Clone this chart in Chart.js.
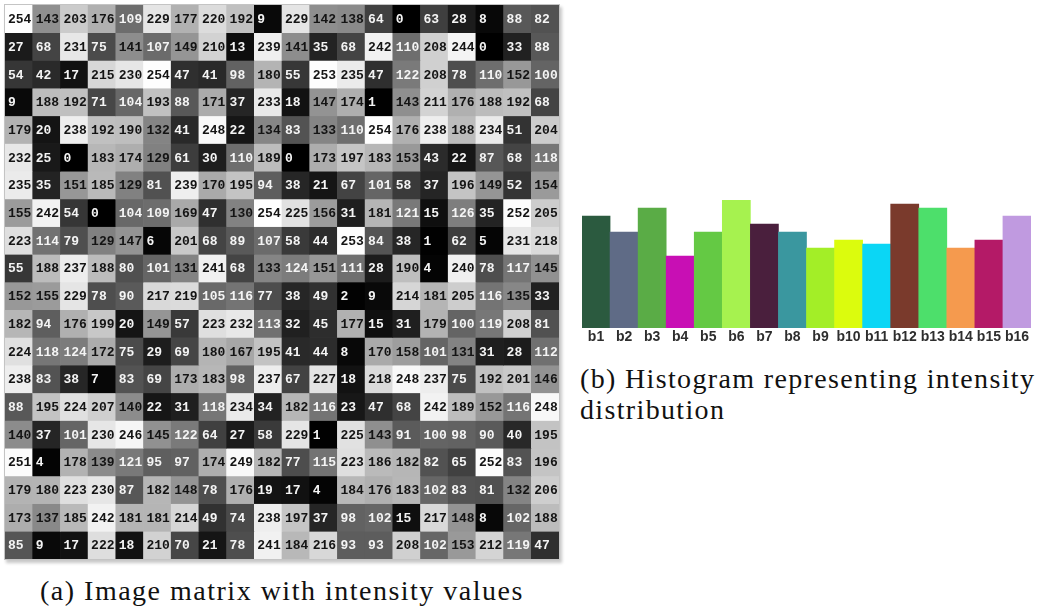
<!DOCTYPE html>
<html>
<head>
<meta charset="utf-8">
<script src="https://cdn.jsdelivr.net/npm/chart.js@4.4.1/dist/chart.umd.min.js"></script>
<style>
  body { margin: 0; background: #fff; width: 1039px; height: 615px; overflow: hidden; position: relative; }
  #matrixBox { position: absolute; left: 4px; top: 4px; width: 554px; height: 554px;
    border: 1px solid #c4c4c4; box-shadow: 2px 3px 3px #c8c8c8; }
  #histBox { position: absolute; left: 582px; top: 200px; width: 449px; height: 150px; }
  .cap { position: absolute; font-family: "Liberation Serif", serif; font-size: 28px; color: #111; white-space: nowrap; letter-spacing: 1.5px; }
</style>
</head>
<body>
<div id="matrixBox"><canvas id="matrix"></canvas></div>
<div id="histBox"><canvas id="hist"></canvas></div>
<div class="cap" style="left:40px; top:575px;">(a) Image matrix with intensity values</div>
<div class="cap" style="left:580px; top:363px; line-height:31px; letter-spacing:1.35px;">(b) Histogram representing intensity<br>distribution</div>
<script>
// intensity values, one array per image row
const r01 = [254, 143, 203, 176, 109, 229, 177, 220, 192, 9, 229, 142, 138, 64, 0, 63, 28, 8, 88, 82];
const r02 = [27, 68, 231, 75, 141, 107, 149, 210, 13, 239, 141, 35, 68, 242, 110, 208, 244, 0, 33, 88];
const r03 = [54, 42, 17, 215, 230, 254, 47, 41, 98, 180, 55, 253, 235, 47, 122, 208, 78, 110, 152, 100];
const r04 = [9, 188, 192, 71, 104, 193, 88, 171, 37, 233, 18, 147, 174, 1, 143, 211, 176, 188, 192, 68];
const r05 = [179, 20, 238, 192, 190, 132, 41, 248, 22, 134, 83, 133, 110, 254, 176, 238, 188, 234, 51, 204];
const r06 = [232, 25, 0, 183, 174, 129, 61, 30, 110, 189, 0, 173, 197, 183, 153, 43, 22, 87, 68, 118];
const r07 = [235, 35, 151, 185, 129, 81, 239, 170, 195, 94, 38, 21, 67, 101, 58, 37, 196, 149, 52, 154];
const r08 = [155, 242, 54, 0, 104, 109, 169, 47, 130, 254, 225, 156, 31, 181, 121, 15, 126, 35, 252, 205];
const r09 = [223, 114, 79, 129, 147, 6, 201, 68, 89, 107, 58, 44, 253, 84, 38, 1, 62, 5, 231, 218];
const r10 = [55, 188, 237, 188, 80, 101, 131, 241, 68, 133, 124, 151, 111, 28, 190, 4, 240, 78, 117, 145];
const r11 = [152, 155, 229, 78, 90, 217, 219, 105, 116, 77, 38, 49, 2, 9, 214, 181, 205, 116, 135, 33];
const r12 = [182, 94, 176, 199, 20, 149, 57, 223, 232, 113, 32, 45, 177, 15, 31, 179, 100, 119, 208, 81];
const r13 = [224, 118, 124, 172, 75, 29, 69, 180, 167, 195, 41, 44, 8, 170, 158, 101, 131, 31, 28, 112];
const r14 = [238, 83, 38, 7, 83, 69, 173, 183, 98, 237, 67, 227, 18, 218, 248, 237, 75, 192, 201, 146];
const r15 = [88, 195, 224, 207, 140, 22, 31, 118, 234, 34, 182, 116, 23, 47, 68, 242, 189, 152, 116, 248];
const r16 = [140, 37, 101, 230, 246, 145, 122, 64, 27, 58, 229, 1, 225, 143, 91, 100, 98, 90, 40, 195];
const r17 = [251, 4, 178, 139, 121, 95, 97, 174, 249, 182, 77, 115, 223, 186, 182, 82, 65, 252, 83, 196];
const r18 = [179, 180, 223, 230, 87, 182, 148, 78, 176, 19, 17, 4, 184, 176, 183, 102, 83, 81, 132, 206];
const r19 = [173, 137, 185, 242, 181, 181, 214, 49, 74, 238, 197, 37, 98, 102, 15, 217, 148, 8, 102, 188];
const r20 = [85, 9, 17, 222, 18, 210, 70, 21, 78, 241, 184, 216, 93, 93, 208, 102, 153, 212, 119, 47];
const rows = [r01, r02, r03, r04, r05, r06, r07, r08, r09, r10, r11, r12, r13, r14, r15, r16, r17, r18, r19, r20];
const columns = ['1', '2', '3', '4', '5', '6', '7', '8', '9', '10', '11', '12', '13', '14', '15', '16', '17', '18', '19', '20'];

// histogram bins
const bins = ['b1', 'b2', 'b3', 'b4', 'b5', 'b6', 'b7', 'b8', 'b9', 'b10', 'b11', 'b12', 'b13', 'b14', 'b15', 'b16'];
const counts = [28, 24, 30, 18, 24, 32, 26, 24, 20, 22, 21, 31, 30, 20, 22, 28];
const binColors = ['#2b5a3f', '#5f6b86', '#5aac46', '#c80fb4', '#64c944', '#a6f24f', '#4a1f3d', '#3a979f',
  '#a3ee27', '#dbfc0d', '#0bd6f5', '#7a3a2c', '#4ddf6b', '#f59a4e', '#b41a67', '#c09ae0'];

const cellText = {
  id: 'cellText',
  afterDatasetsDraw(chart) {
    const c = chart.ctx;
    c.save();
    c.font = 'bold 13px "Liberation Mono", monospace';
    c.textBaseline = 'middle';
    c.textAlign = 'left';
    chart.data.datasets.forEach((ds, di) => {
      chart.getDatasetMeta(di).data.forEach((bar, j) => {
        const v = ds.intensity[j];
        c.fillStyle = v >= 128 ? '#141414' : '#f4f4f4';
        c.fillText(String(v), bar.x - bar.width / 2 + 3, (bar.y + bar.base) / 2 + 1);
      });
    });
    c.restore();
  }
};

new Chart(document.getElementById('matrix'), {
  type: 'bar',
  data: {
    labels: columns,
    datasets: rows.map((vals, i) => ({
      label: 'row ' + (i + 1),
      data: vals.map(() => 1),
      intensity: vals,
      backgroundColor: vals.map(v => `rgb(${v},${v},${v})`),
      borderWidth: 0,
      categoryPercentage: 1,
      barPercentage: 1
    }))
  },
  options: {
    responsive: true,
    maintainAspectRatio: false,
    animation: false,
    plugins: { legend: { display: false }, tooltip: { enabled: false } },
    scales: {
      x: { display: false, stacked: true },
      y: { display: false, stacked: true, reverse: true, min: 0, max: 20 }
    }
  },
  plugins: [cellText]
});

new Chart(document.getElementById('hist'), {
  type: 'bar',
  data: {
    labels: bins,
    datasets: [{
      data: counts,
      backgroundColor: binColors,
      borderWidth: 0,
      categoryPercentage: 1,
      barPercentage: 1
    }]
  },
  options: {
    responsive: true,
    maintainAspectRatio: false,
    animation: false,
    plugins: { legend: { display: false }, tooltip: { enabled: false } },
    scales: {
      x: {
        grid: { display: false, drawTicks: false },
        border: { display: false },
        ticks: { color: '#2e2e2e', font: { family: 'Liberation Sans', size: 14, weight: 'bold' }, padding: 1, maxRotation: 0, autoSkip: false },
        afterFit(scale) { scale.height = 22; }
      },
      y: { display: false, min: 0, max: 32 }
    }
  }
});
</script>
</body>
</html>
